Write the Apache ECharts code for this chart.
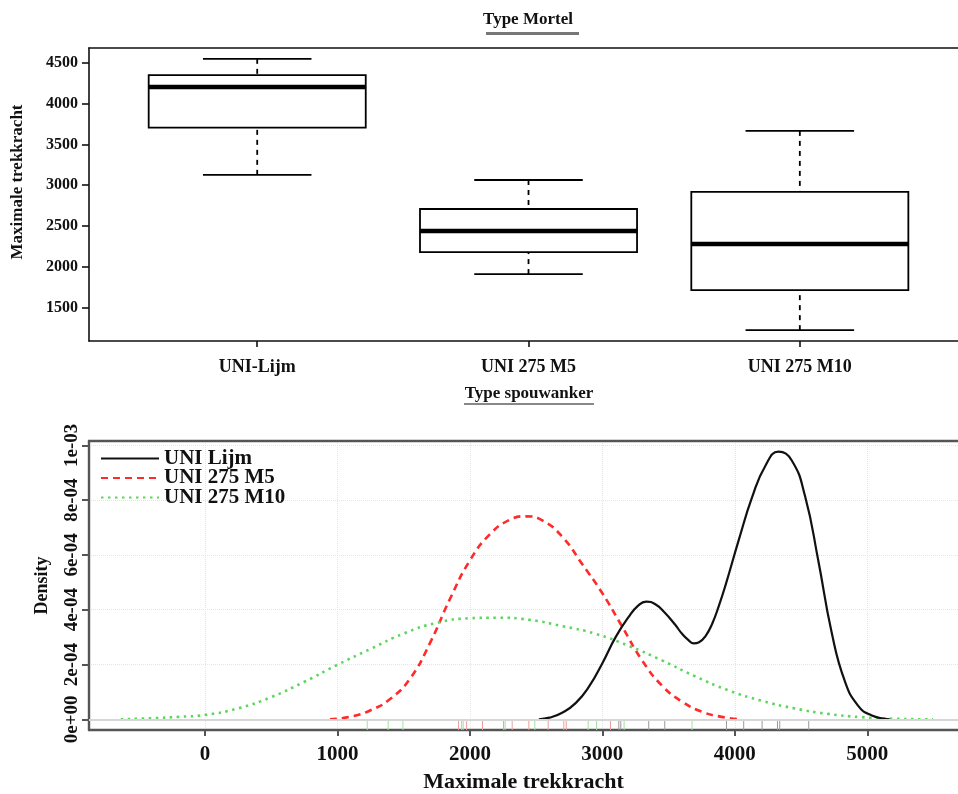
<!DOCTYPE html>
<html>
<head>
<meta charset="utf-8">
<script src="https://cdn.jsdelivr.net/npm/echarts@6/dist/echarts.min.js"></script>
<style>
html, body { margin: 0; padding: 0; background: #fff; }
#chart { width: 958px; height: 794px; }
</style>
</head>
<body>
<div id="chart"></div>
<script>
// ---- Box plot: maximum tensile force per mortar type ----
const mortarTypes = ['UNI-Lijm', 'UNI 275 M5', 'UNI 275 M10'];
const whiskerLow  = [3126, 1909, 1221];
const quartile1   = [3705, 2179, 1712];
const medians     = [4205, 2437, 2277];
const quartile3   = [4349, 2707, 2916];
const whiskerHigh = [4549, 3063, 3665];
const forceTicks  = [1500, 2000, 2500, 3000, 3500, 4000, 4500];

// ---- Kernel density curves per anchor type: [force, density] ----
const densityNames = ['UNI Lijm', 'UNI 275 M5', 'UNI 275 M10'];
const lijmDensity = [
  [2520, 0], [2600, 0.000006], [2700, 0.000025], [2800, 0.000060], [2900, 0.000120],
  [3000, 0.000205], [3100, 0.000300], [3200, 0.000375], [3270, 0.000415], [3330, 0.000430],
  [3400, 0.000420], [3470, 0.000390], [3550, 0.000345], [3600, 0.000313], [3650, 0.000289],
  [3690, 0.000277], [3730, 0.000281], [3780, 0.000305], [3830, 0.000350], [3880, 0.000415],
  [3930, 0.000490], [4030, 0.000655], [4130, 0.000810], [4230, 0.000925], [4330, 0.000977],
  [4430, 0.000945], [4530, 0.000815], [4630, 0.000580], [4730, 0.000320], [4830, 0.000140],
  [4930, 0.000050], [5030, 0.000015], [5170, 0]
];
const m5Density = [
  [943, 0], [1100, 0.000010], [1250, 0.000033], [1400, 0.000075], [1550, 0.000150],
  [1700, 0.000280], [1850, 0.000440], [2000, 0.000580], [2150, 0.000675], [2300, 0.000728],
  [2420, 0.000741], [2550, 0.000725], [2700, 0.000665], [2850, 0.000565], [3000, 0.000460],
  [3150, 0.000338], [3300, 0.000215], [3450, 0.000123], [3600, 0.000065], [3750, 0.000028],
  [3900, 0.000009], [4037, 0]
];
const m10Density = [
  [-636, 0], [-400, 0.000004], [-200, 0.000009], [0, 0.000016], [250, 0.000040],
  [500, 0.000081], [750, 0.000137], [1000, 0.000199], [1250, 0.000257], [1500, 0.000313],
  [1750, 0.000352], [2000, 0.000369], [2200, 0.000371], [2450, 0.000363], [2700, 0.000340],
  [2950, 0.000312], [3200, 0.000268], [3450, 0.000215], [3700, 0.000157], [3950, 0.000106],
  [4200, 0.000068], [4450, 0.000040], [4700, 0.000020], [4950, 0.000008], [5200, 0.000002],
  [5496, 0]
];
// individual measurements shown as a rug under the curves
const lijmValues = [3124, 3139, 3350, 3471, 3937, 4067, 4206, 4322, 4339, 4558];
const m5Values   = [1914, 1975, 2095, 2254, 2319, 2445, 2591, 2709, 2727, 3061];
const m10Values  = [1225, 1383, 1494, 1937, 1949, 2266, 2490, 2893, 2956, 3164, 3677];
const forceAxisTicks = [0, 1000, 2000, 3000, 4000, 5000];
const densityTicks = [0, 0.0002, 0.0004, 0.0006, 0.0008, 0.001];
const densityTickLabels = ['0e+00', '2e-04', '4e-04', '6e-04', '8e-04', '1e-03'];

const SERIF = 'Liberation Serif, Times New Roman, serif';
// visible axis ranges (plot area runs off the right edge of the page)
const boxAxisMin = 0.38, boxAxisMax = 3.583;
const forceMin = 1088, forceMax = 4682;
const densityForceMin = -876, densityForceMax = 5685;
const densityMin = -0.000039, densityMax = 0.001016;

function renderBox(params, api) {
  const pos = api.value(0);
  const pLow = api.coord([pos, api.value(1)]);
  const pQ1 = api.coord([pos, api.value(2)]);
  const pMed = api.coord([pos, api.value(3)]);
  const pQ3 = api.coord([pos, api.value(4)]);
  const pHigh = api.coord([pos, api.value(5)]);
  const boxW = api.size([0.8, 0])[0];
  const capW = boxW / 2;
  const cx = pMed[0];
  const solid = { stroke: '#000', lineWidth: 1.8 };
  const dashed = { stroke: '#000', lineWidth: 1.8, lineDash: [5, 5] };
  return {
    type: 'group',
    children: [
      { type: 'line', shape: { x1: cx, y1: pLow[1], x2: cx, y2: pQ1[1] }, style: dashed },
      { type: 'line', shape: { x1: cx, y1: pHigh[1], x2: cx, y2: pQ3[1] }, style: dashed },
      { type: 'line', shape: { x1: cx - capW / 2, y1: pLow[1], x2: cx + capW / 2, y2: pLow[1] }, style: solid },
      { type: 'line', shape: { x1: cx - capW / 2, y1: pHigh[1], x2: cx + capW / 2, y2: pHigh[1] }, style: solid },
      { type: 'rect', shape: { x: cx - boxW / 2, y: pQ3[1], width: boxW, height: pQ1[1] - pQ3[1] },
        style: { stroke: '#000', lineWidth: 1.8, fill: '#fff' } },
      { type: 'line', shape: { x1: cx - boxW / 2, y1: pMed[1], x2: cx + boxW / 2, y2: pMed[1] },
        style: { stroke: '#000', lineWidth: 4.5 } }
    ]
  };
}

function renderRug(params, api) {
  const v = api.value(0);
  const top = api.coord([v, 0]);
  const bottom = api.coord([v, densityMin]);
  return {
    type: 'line',
    shape: { x1: top[0], y1: top[1] + 1, x2: top[0], y2: bottom[1] },
    style: { stroke: api.visual('color'), lineWidth: 1 }
  };
}

const boxData = mortarTypes.map((_, i) =>
  [i + 1, whiskerLow[i], quartile1[i], medians[i], quartile3[i], whiskerHigh[i]]);

const boldLabel = (size) => ({ fontFamily: SERIF, fontWeight: 'bold', fontSize: size, color: '#111' });
const frameTop = (gridIndex, min, max, color, width) => ({
  gridIndex, type: 'value', position: 'top', min, max,
  axisLine: { show: true, onZero: false, lineStyle: { color, width } },
  axisTick: { show: false }, axisLabel: { show: false }, splitLine: { show: false }
});

const chart = echarts.init(document.getElementById('chart'), null, { renderer: 'canvas' });
chart.setOption({
  animation: false,
  backgroundColor: '#fff',
  grid: [
    { left: 89, top: 48, right: 0, height: 293 },
    { left: 89, top: 441, right: 0, height: 291 }
  ],
  xAxis: [
    {
      gridIndex: 0, type: 'value', min: boxAxisMin, max: boxAxisMax,
      axisLine: { show: true, onZero: false, lineStyle: { color: '#111', width: 1.6 } },
      axisTick: { show: true, customValues: [1, 2, 3], length: 6, lineStyle: { color: '#111', width: 1.6 } },
      axisLabel: { customValues: [1, 2, 3], margin: 17, ...boldLabel(18),
        formatter: (v) => mortarTypes[Math.round(v) - 1] || '' },
      splitLine: { show: false }
    },
    {
      gridIndex: 1, type: 'value', min: densityForceMin, max: densityForceMax,
      axisLine: { show: true, onZero: false, lineStyle: { color: '#555', width: 2.4 } },
      axisTick: { show: true, customValues: forceAxisTicks, length: 6, lineStyle: { color: '#555', width: 2 } },
      axisLabel: { customValues: forceAxisTicks, margin: 14, ...boldLabel(21), formatter: (v) => String(v) },
      splitLine: { show: true, lineStyle: { color: '#e4e4e4', type: 'dotted', width: 1 } },
      name: 'Maximale trekkracht', nameLocation: 'middle', nameGap: 41,
      nameTextStyle: boldLabel(22)
    },
    frameTop(0, boxAxisMin, boxAxisMax, '#111', 1.6),
    frameTop(1, densityForceMin, densityForceMax, '#555', 2.4)
  ],
  yAxis: [
    {
      gridIndex: 0, type: 'value', min: forceMin, max: forceMax,
      axisLine: { show: true, onZero: false, lineStyle: { color: '#111', width: 1.6 } },
      axisTick: { show: true, customValues: forceTicks, length: 7, lineStyle: { color: '#111', width: 1.6 } },
      axisLabel: { customValues: forceTicks, margin: 11, ...boldLabel(16), formatter: (v) => String(v) },
      splitLine: { show: false }
    },
    {
      gridIndex: 1, type: 'value', min: densityMin, max: densityMax,
      axisLine: { show: true, onZero: false, lineStyle: { color: '#555', width: 2.4 } },
      axisTick: { show: true, customValues: densityTicks, length: 7, lineStyle: { color: '#555', width: 2 } },
      axisLabel: { customValues: densityTicks, rotate: 90, margin: 7, ...boldLabel(19),
        formatter: (v) => {
          const i = densityTicks.findIndex((t) => Math.abs(t - v) < 1e-9);
          return i >= 0 ? densityTickLabels[i] : '';
        } },
      splitLine: { show: true, lineStyle: { color: '#e4e4e4', type: 'dotted', width: 1 } },
      name: 'Density', nameLocation: 'middle', nameGap: 38, nameRotate: 90,
      nameTextStyle: boldLabel(18)
    }
  ],
  legend: {
    data: densityNames,
    orient: 'vertical',
    left: 100, top: 448,
    padding: 0,
    itemWidth: 58, itemHeight: 14, itemGap: -1.5,
    itemStyle: { opacity: 0 },
    textStyle: { ...boldLabel(21), lineHeight: 19 },
    selectedMode: false
  },
  graphic: [
    { type: 'text', x: 528, y: 20, style: { text: 'Type Mortel', align: 'center', verticalAlign: 'middle',
      font: 'bold 17px ' + SERIF, fill: '#111' } },
    { type: 'line', shape: { x1: 486, y1: 33.5, x2: 579, y2: 33.5 }, style: { stroke: '#777', lineWidth: 3 } },
    { type: 'text', x: 529, y: 394, style: { text: 'Type spouwanker', align: 'center', verticalAlign: 'middle',
      font: 'bold 17px ' + SERIF, fill: '#111' } },
    { type: 'line', shape: { x1: 464, y1: 404, x2: 594, y2: 404 }, style: { stroke: '#888', lineWidth: 2 } },
    { type: 'text', x: 18, y: 182, rotation: Math.PI / 2, style: { text: 'Maximale trekkracht', align: 'center',
      verticalAlign: 'middle', font: 'bold 17px ' + SERIF, fill: '#111' } }
  ],
  series: [
    {
      type: 'custom', xAxisIndex: 0, yAxisIndex: 0, renderItem: renderBox,
      encode: { x: 0, y: [1, 2, 3, 4, 5] }, data: boxData, silent: true
    },
    {
      name: densityNames[0], type: 'line', xAxisIndex: 1, yAxisIndex: 1, data: lijmDensity,
      smooth: 0.5, symbol: 'none', lineStyle: { color: '#111', width: 2.2, type: 'solid' },
      itemStyle: { color: '#111' }, z: 4,
      markLine: { silent: true, symbol: 'none', label: { show: false }, animation: false,
        lineStyle: { color: '#d6d6d6', type: 'solid', width: 2 }, data: [{ yAxis: 0 }] }
    },
    {
      name: densityNames[1], type: 'line', xAxisIndex: 1, yAxisIndex: 1, data: m5Density,
      smooth: 0.5, symbol: 'none', lineStyle: { color: '#ff2a2a', width: 2.6, type: [7, 5] },
      itemStyle: { color: '#ff2a2a' }, z: 3
    },
    {
      name: densityNames[2], type: 'line', xAxisIndex: 1, yAxisIndex: 1, data: m10Density,
      smooth: 0.5, symbol: 'none', lineStyle: { color: '#5ed65e', width: 2.6, type: [2.5, 4.5] },
      itemStyle: { color: '#5ed65e' }, z: 3
    },
    { type: 'custom', xAxisIndex: 1, yAxisIndex: 1, renderItem: renderRug, silent: true,
      itemStyle: { color: '#9a9a9a' }, encode: { x: 0 }, data: lijmValues.map((v) => [v]) },
    { type: 'custom', xAxisIndex: 1, yAxisIndex: 1, renderItem: renderRug, silent: true,
      itemStyle: { color: '#f39a9a' }, encode: { x: 0 }, data: m5Values.map((v) => [v]) },
    { type: 'custom', xAxisIndex: 1, yAxisIndex: 1, renderItem: renderRug, silent: true,
      itemStyle: { color: '#9fe39f' }, encode: { x: 0 }, data: m10Values.map((v) => [v]) }
  ]
});
</script>
</body>
</html>
